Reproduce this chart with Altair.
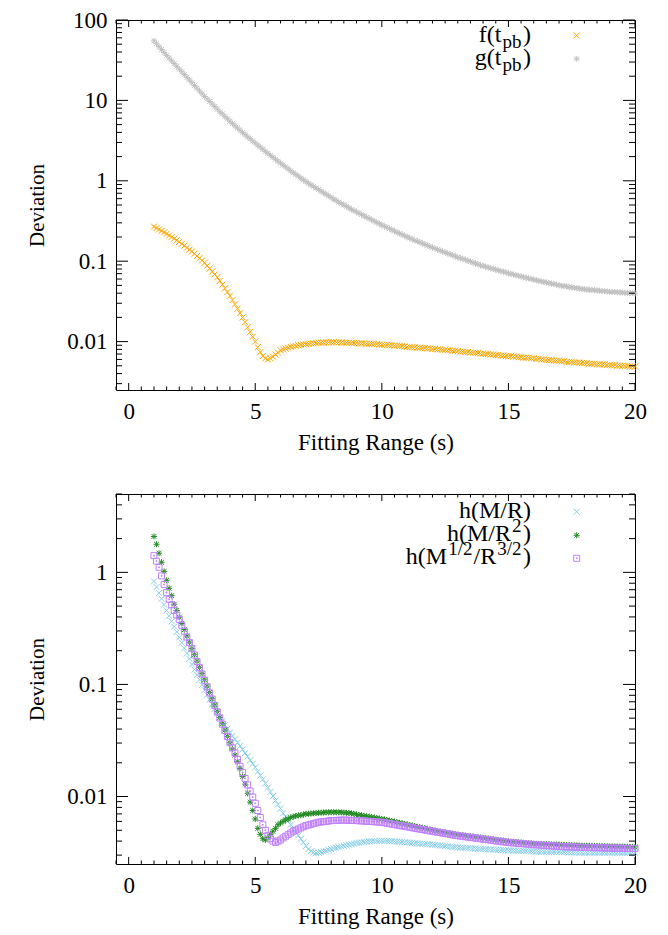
import altair as alt
import pandas as pd

# ---------------- data ----------------
fit_range = [round(1.0 + 0.1 * i, 1) for i in range(191)]

f_tpb = [0.269, 0.258, 0.248, 0.238, 0.228, 0.219, 0.209, 0.200, 0.191, 0.182, 0.174,
         0.164, 0.156, 0.147, 0.139, 0.132, 0.124, 0.116, 0.109, 0.102, 0.0955,
         0.0879, 0.0809, 0.0745, 0.0685, 0.0631, 0.0568, 0.0511, 0.0459, 0.0413, 0.0372,
         0.0328, 0.0290, 0.0256, 0.0226, 0.0200, 0.0174, 0.0151, 0.0132, 0.0115, 0.0100,
         0.0085, 0.0074, 0.0066, 0.0062, 0.0060, 0.0062, 0.0065, 0.0069, 0.0073, 0.0078,
         0.0080, 0.0082, 0.0084, 0.0086, 0.0087, 0.0088, 0.0090, 0.0091, 0.0092, 0.0093,
         0.0094, 0.0095, 0.0095, 0.0096, 0.0097, 0.0097, 0.0097, 0.0098, 0.0098, 0.0098,
         0.0098, 0.0098, 0.0098, 0.0097, 0.0097, 0.0097, 0.0097, 0.0096, 0.0096, 0.0096,
         0.0095, 0.0095, 0.0095, 0.0094, 0.0094, 0.0094, 0.0093, 0.0093, 0.0092, 0.0091,
         0.0091, 0.0091, 0.0090, 0.0090, 0.0089, 0.0089, 0.0088, 0.0088, 0.0087, 0.0086,
         0.0086, 0.0085, 0.0085, 0.0084, 0.0084, 0.0083, 0.0083, 0.0082, 0.0082, 0.0081,
         0.0081, 0.0080, 0.0080, 0.0079, 0.0079, 0.0078, 0.0078, 0.0077, 0.0077, 0.0076,
         0.0075, 0.0075, 0.0074, 0.0074, 0.0073, 0.0073, 0.0072, 0.0072, 0.0071, 0.0071,
         0.0070, 0.0070, 0.0069, 0.0069, 0.0068, 0.0068, 0.0067, 0.0067, 0.0066, 0.0066,
         0.0066, 0.0065, 0.0065, 0.0064, 0.0064, 0.0063, 0.0063, 0.0063, 0.0062, 0.0062,
         0.0061, 0.0061, 0.0060, 0.0060, 0.0059, 0.0059, 0.0059, 0.0058, 0.0058, 0.0058,
         0.0057, 0.0057, 0.0056, 0.0056, 0.0056, 0.0055, 0.0055, 0.0055, 0.0054, 0.0054,
         0.0054, 0.0053, 0.0053, 0.0053, 0.0052, 0.0052, 0.0052, 0.0052, 0.0051, 0.0051,
         0.0051, 0.0051, 0.0050, 0.0050, 0.0050, 0.0050, 0.0050, 0.0049, 0.0049, 0.0049]

g_tpb = [55.0, 50.6, 46.6, 42.9, 39.4, 36.3, 33.6, 31.0, 28.7, 26.5, 24.5,
         22.7, 21.0, 19.4, 17.9, 16.6, 15.3, 14.2, 13.1, 12.1, 11.2,
         10.4, 9.7, 9.0, 8.4, 7.8, 7.2, 6.8, 6.3, 5.9, 5.5,
         5.15, 4.83, 4.53, 4.25, 3.98, 3.75, 3.53, 3.33, 3.13, 2.95,
         2.78, 2.62, 2.47, 2.32, 2.19, 2.07, 1.96, 1.85, 1.75, 1.66,
         1.57, 1.49, 1.41, 1.33, 1.26, 1.20, 1.14, 1.08, 1.03, 0.98,
         0.93, 0.89, 0.85, 0.81, 0.78, 0.74, 0.71, 0.68, 0.65, 0.62,
         0.59, 0.57, 0.54, 0.52, 0.50, 0.48, 0.46, 0.44, 0.425, 0.41,
         0.395, 0.38, 0.365, 0.352, 0.34, 0.327, 0.315, 0.303, 0.292, 0.282,
         0.272, 0.263, 0.254, 0.245, 0.237, 0.229, 0.221, 0.214, 0.207, 0.200,
         0.194, 0.188, 0.182, 0.177, 0.172, 0.167, 0.162, 0.157, 0.152, 0.148,
         0.144, 0.140, 0.136, 0.132, 0.129, 0.125, 0.122, 0.119, 0.115, 0.112,
         0.109, 0.107, 0.104, 0.101, 0.099, 0.096, 0.094, 0.092, 0.089, 0.087,
         0.0853, 0.0836, 0.0818, 0.0802, 0.0785, 0.0769, 0.0753, 0.0738, 0.0723, 0.0708,
         0.0695, 0.0682, 0.0670, 0.0658, 0.0646, 0.0634, 0.0622, 0.0611, 0.0600, 0.0589,
         0.0579, 0.0570, 0.0561, 0.0552, 0.0543, 0.0535, 0.0526, 0.0518, 0.0509, 0.0501,
         0.0495, 0.0490, 0.0484, 0.0479, 0.0473, 0.0468, 0.0462, 0.0457, 0.0452, 0.0447,
         0.0444, 0.0441, 0.0438, 0.0435, 0.0432, 0.0429, 0.0426, 0.0423, 0.0420, 0.0417,
         0.0415, 0.0413, 0.0411, 0.0409, 0.0407, 0.0405, 0.0403, 0.0401, 0.0400, 0.0398]

h_MR = [0.83, 0.738, 0.655, 0.581, 0.515, 0.457, 0.409, 0.366, 0.328, 0.294, 0.263,
        0.236, 0.211, 0.189, 0.169, 0.151, 0.136, 0.122, 0.110, 0.0991, 0.0891,
        0.0809, 0.0735, 0.0667, 0.0605, 0.0550, 0.0508, 0.0470, 0.0435, 0.0402, 0.0372,
        0.0347, 0.0324, 0.0302, 0.0282, 0.0263, 0.0244, 0.0227, 0.0211, 0.0196, 0.0182,
        0.0167, 0.0154, 0.0142, 0.0131, 0.0120, 0.0110, 0.0101, 0.0092, 0.0085, 0.0078,
        0.0071, 0.0066, 0.0061, 0.0056, 0.0051, 0.0048, 0.0045, 0.0042, 0.0039, 0.0036,
        0.00339, 0.00324, 0.00316, 0.00313, 0.00316, 0.0032, 0.00324, 0.00327, 0.00333, 0.00339,
        0.00344, 0.00348, 0.00353, 0.00358, 0.00363, 0.00367, 0.00372, 0.00376, 0.0038, 0.00385,
        0.00387, 0.0039, 0.00393, 0.00395, 0.00398, 0.00399, 0.004, 0.00401, 0.00402, 0.00403,
        0.00402, 0.00401, 0.004, 0.00399, 0.00398, 0.00396, 0.00394, 0.00393, 0.00391, 0.00389,
        0.00387, 0.00386, 0.00384, 0.00382, 0.0038, 0.00379, 0.00377, 0.00375, 0.00374, 0.00372,
        0.0037, 0.00368, 0.00366, 0.00364, 0.00362, 0.0036, 0.00358, 0.00355, 0.00353, 0.00351,
        0.0035, 0.00349, 0.00348, 0.00346, 0.00345, 0.00344, 0.00343, 0.00342, 0.0034, 0.00339,
        0.00338, 0.00337, 0.00337, 0.00336, 0.00335, 0.00334, 0.00333, 0.00333, 0.00332, 0.00331,
        0.0033, 0.0033, 0.00329, 0.00328, 0.00328, 0.00327, 0.00326, 0.00326, 0.00325, 0.00324,
        0.00323, 0.00322, 0.00322, 0.00321, 0.00321, 0.0032, 0.0032, 0.0032, 0.0032, 0.0032,
        0.00319, 0.00319, 0.00318, 0.00318, 0.00317, 0.00317, 0.00317, 0.00316, 0.00316, 0.00316,
        0.00316, 0.00316, 0.00316, 0.00316, 0.00316, 0.00316, 0.00316, 0.00316, 0.00316, 0.00316,
        0.00316, 0.00316, 0.00315, 0.00315, 0.00315, 0.00315, 0.00315, 0.00315, 0.00315, 0.00315]

h_MR2 = [2.09, 1.78, 1.48, 1.23, 1.02, 0.85, 0.72, 0.62, 0.52, 0.457, 0.398,
         0.350, 0.308, 0.270, 0.238, 0.209, 0.184, 0.161, 0.142, 0.125, 0.110,
         0.0964, 0.0847, 0.0745, 0.0655, 0.0575, 0.0506, 0.0445, 0.0391, 0.0344, 0.0302,
         0.0266, 0.0234, 0.0204, 0.0178, 0.0151, 0.0129, 0.0107, 0.0089, 0.0075, 0.0063,
         0.0052, 0.0046, 0.0042, 0.0041, 0.0043, 0.0046, 0.0049, 0.0052, 0.0056, 0.0058,
         0.0060, 0.0062, 0.0063, 0.0065, 0.0066, 0.0067, 0.0068, 0.0068, 0.0069, 0.0070,
         0.00702, 0.00705, 0.00709, 0.00712, 0.00716, 0.00718, 0.0072, 0.00722, 0.00723, 0.00724,
         0.00724, 0.00724, 0.00723, 0.00722, 0.0072, 0.00716, 0.00712, 0.00707, 0.00702, 0.00692,
         0.00685, 0.00679, 0.00673, 0.00667, 0.00661, 0.00655, 0.00649, 0.00643, 0.00637, 0.00631,
         0.00624, 0.00617, 0.0061, 0.00603, 0.00596, 0.00589, 0.00583, 0.00576, 0.0057, 0.00562,
         0.00556, 0.0055, 0.00543, 0.00537, 0.00531, 0.00525, 0.00519, 0.00513, 0.00507, 0.00501,
         0.00496, 0.00492, 0.00487, 0.00483, 0.00478, 0.00474, 0.0047, 0.00465, 0.00461, 0.00457,
         0.00454, 0.00451, 0.00448, 0.00445, 0.00442, 0.00439, 0.00436, 0.00433, 0.0043, 0.00427,
         0.00424, 0.00421, 0.00418, 0.00415, 0.00412, 0.00409, 0.00406, 0.00404, 0.00401, 0.00398,
         0.00396, 0.00394, 0.00393, 0.00391, 0.00389, 0.00387, 0.00385, 0.00384, 0.00382, 0.0038,
         0.00379, 0.00378, 0.00378, 0.00377, 0.00376, 0.00375, 0.00374, 0.00374, 0.00373, 0.00372,
         0.00371, 0.0037, 0.00369, 0.00368, 0.00367, 0.00367, 0.00366, 0.00365, 0.00364, 0.00363,
         0.00363, 0.00362, 0.00362, 0.00361, 0.00361, 0.00361, 0.0036, 0.0036, 0.00359, 0.00359,
         0.00359, 0.00358, 0.00358, 0.00357, 0.00357, 0.00357, 0.00356, 0.00356, 0.00355, 0.00355]

h_M12R32 = [1.41, 1.26, 1.11, 0.93, 0.78, 0.66, 0.575, 0.513, 0.457, 0.417, 0.380,
            0.337, 0.299, 0.265, 0.236, 0.209, 0.183, 0.160, 0.141, 0.124, 0.109,
            0.0955, 0.0840, 0.0740, 0.0650, 0.0570, 0.0502, 0.0442, 0.0389, 0.0342, 0.0302,
            0.0272, 0.0245, 0.0214, 0.0186, 0.0164, 0.0145, 0.0127, 0.0112, 0.0099, 0.0087,
            0.0075, 0.0065, 0.0056, 0.0050, 0.0045, 0.0042, 0.0040, 0.0039, 0.0040, 0.0041,
            0.00427, 0.00442, 0.00457, 0.00473, 0.0049, 0.00501, 0.00513, 0.00525, 0.00537, 0.0055,
            0.00557, 0.00565, 0.00573, 0.00581, 0.00589, 0.00593, 0.00597, 0.00601, 0.00605, 0.0061,
            0.00611, 0.00612, 0.00614, 0.00615, 0.00617, 0.00615, 0.00614, 0.00612, 0.00611, 0.0061,
            0.00608, 0.00606, 0.00604, 0.00602, 0.006, 0.00598, 0.00596, 0.00594, 0.00591, 0.00589,
            0.00584, 0.00578, 0.00573, 0.00567, 0.00562, 0.00557, 0.00552, 0.00547, 0.00542, 0.00537,
            0.00532, 0.00527, 0.00522, 0.00517, 0.00512, 0.00508, 0.00503, 0.00498, 0.00494, 0.0049,
            0.00485, 0.00481, 0.00477, 0.00472, 0.00468, 0.00464, 0.0046, 0.00455, 0.00451, 0.00447,
            0.00444, 0.00441, 0.00438, 0.00435, 0.00432, 0.00429, 0.00426, 0.00423, 0.0042, 0.00417,
            0.00414, 0.00411, 0.00408, 0.00405, 0.00402, 0.004, 0.00397, 0.00394, 0.00392, 0.00389,
            0.00387, 0.00386, 0.00384, 0.00382, 0.0038, 0.00379, 0.00377, 0.00375, 0.00374, 0.00372,
            0.00371, 0.0037, 0.00368, 0.00367, 0.00366, 0.00364, 0.00363, 0.00362, 0.0036, 0.00359,
            0.00358, 0.00357, 0.00356, 0.00356, 0.00355, 0.00354, 0.00353, 0.00353, 0.00352, 0.00351,
            0.00351, 0.0035, 0.0035, 0.0035, 0.00349, 0.00349, 0.00348, 0.00348, 0.00347, 0.00347,
            0.00347, 0.00346, 0.00346, 0.00346, 0.00345, 0.00345, 0.00344, 0.00344, 0.00344, 0.00343]

x_major = [0, 5, 10, 15, 20]
x_minor = [v / 2 for v in range(-1, 41) if v % 10 != 0]
top_y_major = [0.01, 0.1, 1, 10, 100]
top_y_minor = [k * 10.0 ** e for e in range(-3, 2) for k in range(2, 10) if 0.0025 <= k * 10.0 ** e <= 100]
bot_y_major = [0.01, 0.1, 1]
bot_y_minor = [k * 10.0 ** e for e in range(-3, 1) for k in range(2, 10) if 0.0025 <= k * 10.0 ** e <= 5]

# ---------------- styling ----------------
W, H = 519, 370
FONT = "Liberation Serif"
LABEL_FS = 23
XTITLE_FS = 23
YTITLE_FS = 21
LFS = 24
SFS = 19

X_SHAPE = "M-1,-1L1,1M-1,1L1,-1"
STAR = "M-1,0L1,0M0,-1L0,1M-0.8,-0.8L0.8,0.8M-0.8,0.8L0.8,-0.8"
SQUARE = "M-1,-1L1,-1L1,1L-1,1Z M-0.15,-0.15L0.15,-0.15L0.15,0.15L-0.15,0.15Z"

C_F, C_G = "#ffa500", "#c0c0c0"
C_MR, C_MR2, C_M12 = "#87ceeb", "#228b22", "#c080ff"

AX_STYLE = dict(labelFont=FONT, labelFontSize=LABEL_FS, titleFont=FONT,
                titleFontWeight="normal", labelColor="black", titleColor="black",
                ticks=False, domain=False, grid=False, labelFlush=False)

xscale = alt.Scale(domain=[-0.5, 20], nice=False, zero=False)
x_axis = alt.Axis(values=x_major, title="Fitting Range (s)", labelPadding=10, titlePadding=8,
                  titleFontSize=XTITLE_FS, **AX_STYLE)


def y_axis(values):
    return alt.Axis(values=values, format="~g", title="Deviation", labelPadding=9, titlePadding=19,
                    titleFontSize=YTITLE_FS, **AX_STYLE)


def long_df(series):
    rows = []
    for name, vals in series:
        for xv, yv in zip(fit_range, vals):
            rows.append({"x": xv, "v": yv, "s": name})
    return pd.DataFrame(rows)


def tick_layers(yscale, yax, ymajor, yminor):
    layers = []
    for vals, L in [(x_major, 7), (x_minor, 3.5)]:
        base = alt.Chart(pd.DataFrame({"x": vals})).mark_rule(color="black", strokeWidth=1)
        layers.append(base.encode(x=alt.X("x:Q", scale=xscale, axis=x_axis), y=alt.value(H), y2=alt.value(H - L)))
        layers.append(base.encode(x=alt.X("x:Q", scale=xscale, axis=x_axis), y=alt.value(0), y2=alt.value(L)))
    for vals, L in [(ymajor, 12), (yminor, 6)]:
        base = alt.Chart(pd.DataFrame({"v": vals})).mark_rule(color="black", strokeWidth=1)
        layers.append(base.encode(y=alt.Y("v:Q", scale=yscale, axis=yax), x=alt.value(0), x2=alt.value(L)))
        layers.append(base.encode(y=alt.Y("v:Q", scale=yscale, axis=yax), x=alt.value(W), x2=alt.value(W - L)))
    return layers


def text_piece(txt, xr, y, size):
    return alt.Chart(pd.DataFrame({"t": [txt]})).mark_text(
        font=FONT, fontSize=size, align="right", baseline="alphabetic", color="black"
    ).encode(text="t:N", x=alt.value(xr), y=alt.value(y))


def key_marker(shape, color, y):
    return alt.Chart(pd.DataFrame({"k": [0]})).mark_point(
        filled=False, strokeWidth=1, size=36, opacity=1
    ).encode(x=alt.value(460.7), y=alt.value(y), shape=alt.value(shape), color=alt.value(color))


def data_layer(df, yscale, yax, names, colors, shapes):
    return alt.Chart(df).mark_point(filled=False, strokeWidth=1, size=36, opacity=1).encode(
        x=alt.X("x:Q", scale=xscale, axis=x_axis),
        y=alt.Y("v:Q", scale=yscale, axis=yax),
        color=alt.Color("s:N", scale=alt.Scale(domain=names, range=colors), legend=None),
        shape=alt.Shape("s:N", scale=alt.Scale(domain=names, range=shapes), legend=None),
    )


# ---------------- top panel ----------------
top_scale = alt.Scale(type="log", domain=[0.0025, 100], nice=False)
top_yax = y_axis(top_y_major)
top_df = long_df([("f", f_tpb), ("g", g_tpb)])
RX = 415
top_layers = [data_layer(top_df, top_scale, top_yax, ["f", "g"], [C_F, C_G], [X_SHAPE, STAR])]
top_layers += tick_layers(top_scale, top_yax, top_y_major, top_y_minor)
top_layers += [
    text_piece(")", RX, 21.5, LFS), text_piece("pb", RX - 9.5, 28, SFS), text_piece("f(t", RX - 29.5, 21.5, LFS),
    key_marker(X_SHAPE, C_F, 15.5),
    text_piece(")", RX, 44.8, LFS), text_piece("pb", RX - 9.5, 51.3, SFS), text_piece("g(t", RX - 29.5, 44.8, LFS),
    key_marker(STAR, C_G, 38.8),
]
top = alt.layer(*top_layers).properties(width=W, height=H)

# ---------------- bottom panel ----------------
bot_scale = alt.Scale(type="log", domain=[0.0025, 5], nice=False)
bot_yax = y_axis(bot_y_major)
bot_df = long_df([("MR", h_MR), ("MR2", h_MR2), ("M12", h_M12R32)])
bot_layers = [data_layer(bot_df, bot_scale, bot_yax, ["MR", "MR2", "M12"],
                         [C_MR, C_MR2, C_M12], [X_SHAPE, STAR, SQUARE])]
bot_layers += tick_layers(bot_scale, bot_yax, bot_y_major, bot_y_minor)
bot_layers += [
    text_piece("h(M/R)", RX, 23.7, LFS),
    key_marker(X_SHAPE, C_MR, 17.7),
    text_piece(")", RX, 47.3, LFS), text_piece("2", RX - 9.5, 38.0, SFS), text_piece("h(M/R", RX - 20, 47.3, LFS),
    key_marker(STAR, C_MR2, 41.3),
    text_piece(")", RX, 70.3, LFS), text_piece("3/2", RX - 9.5, 61.0, SFS), text_piece("/R", RX - 34.8, 70.3, LFS),
    text_piece("1/2", RX - 58.5, 61.0, SFS), text_piece("h(M", RX - 83.8, 70.3, LFS),
    key_marker(SQUARE, C_M12, 64.3),
]
bottom = alt.layer(*bot_layers).properties(width=W, height=H)

chart = alt.vconcat(top, bottom, spacing=38).resolve_scale(
    color="independent", shape="independent", x="independent", y="independent"
).properties(
    padding={"left": 18, "top": 0, "right": 5, "bottom": 5}
).configure(background="white").configure_view(
    stroke="black", strokeWidth=1
)

chart.save("out.html", embed_options={"renderer": "svg", "actions": False})
